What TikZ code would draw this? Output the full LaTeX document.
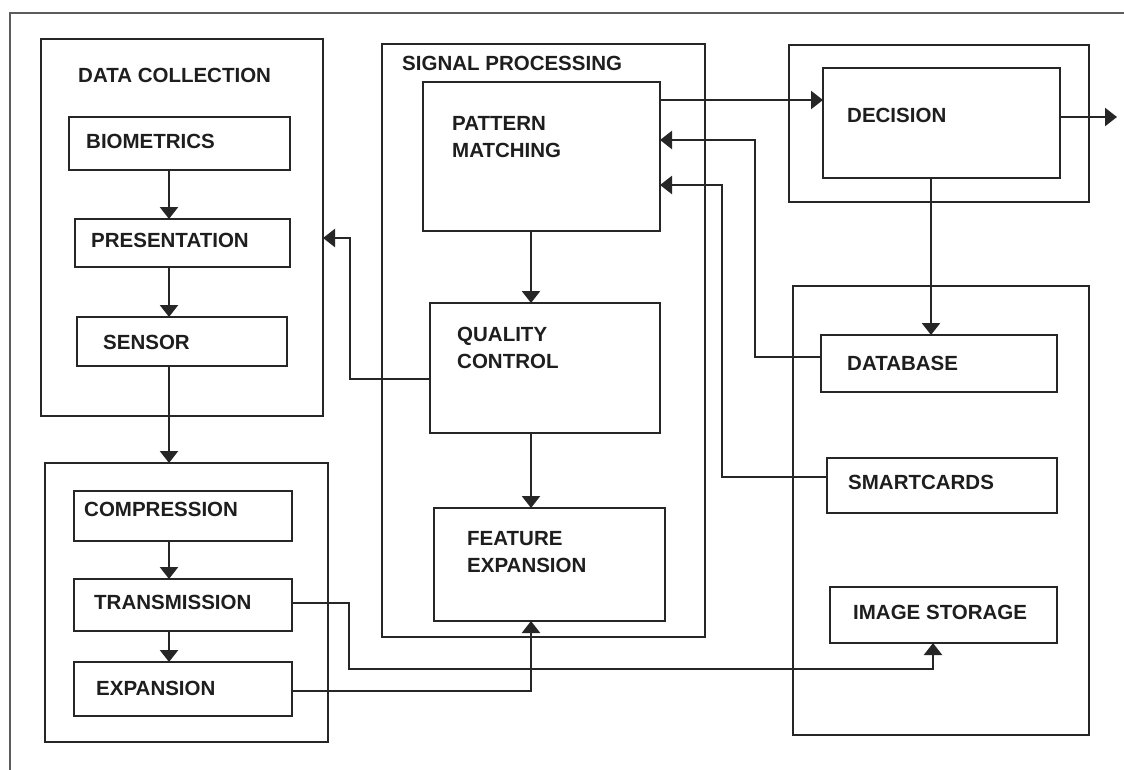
\documentclass[tikz,border=0pt]{standalone}
\usepackage{fontspec}
\setmainfont{Liberation Sans}
\usetikzlibrary{arrows.meta}
\definecolor{lc}{HTML}{262626}
\definecolor{tc}{HTML}{1E1E1E}
\newcommand\mkbox[5]{\node[box,minimum width={(#4-#2)*1pt},minimum height={(#5-#3)*1pt}] (#1) at (#2,#3) {};}
\begin{document}
\begin{tikzpicture}[x=1pt,y=-1pt,
  box/.style={draw=lc, line width=2.6pt, rectangle, inner sep=0pt, outer sep=0pt, anchor=north west},
  txt/.style={font=\fontsize{20.5}{27}\selectfont\bfseries, text=tc, inner sep=0pt, anchor=west, align=left},
  conn/.style={draw=lc, line width=2.3pt},
  arr/.style={conn, -{Triangle[width=18pt,length=12pt]}}]
\useasboundingbox (0,0) rectangle (1124,769);
\clip (0,0) rectangle (1124,769);
\fill[white] (0,0) rectangle (1124,769);
% outer frame
\draw[draw=lc!75, line width=2.4pt] (10,790) -- (10,13) -- (1140,13);
% boxes
\mkbox{dc}{41}{39}{323}{416}
\mkbox{bio}{69}{117}{290}{170}
\mkbox{pres}{75}{219}{290}{267}
\mkbox{sens}{77}{317}{287}{366}
\mkbox{tx}{45}{463}{328}{742}
\mkbox{comp}{74}{491}{292}{541}
\mkbox{trans}{74}{579}{292}{631}
\mkbox{expn}{74}{662}{292}{716}
\mkbox{sp}{382}{44}{705}{637}
\mkbox{pm}{423}{82}{660}{231}
\mkbox{qc}{430}{303}{660}{433}
\mkbox{fe}{434}{508}{665}{621}
\mkbox{dp}{789}{45}{1089}{202}
\mkbox{dec}{823}{68}{1060}{178}
\mkbox{st}{793}{286}{1089}{735}
\mkbox{db}{821}{335}{1057}{392}
\mkbox{sc}{827}{458}{1057}{513}
\mkbox{img}{830}{587}{1057}{643}
% texts
\node[txt] (tdc) at (78,75) {DATA COLLECTION};
\node[txt] (tbio) at (86,141) {BIOMETRICS};
\node[txt] (tpres) at (91,240) {PRESENTATION};
\node[txt] (tsens) at (103,342) {SENSOR};
\node[txt] (tcomp) at (84,509) {COMPRESSION};
\node[txt] (ttrans) at (94,602) {TRANSMISSION};
\node[txt] (texpn) at (96,688) {EXPANSION};
\node[txt] (tsp) at (402,63) {SIGNAL PROCESSING};
\node[txt] (tpm) at (452,137) {PATTERN\\MATCHING};
\node[txt] (tqc) at (457,348) {QUALITY\\CONTROL};
\node[txt] (tfe) at (467,552) {FEATURE\\EXPANSION};
\node[txt] (tdec) at (847,115) {DECISION};
\node[txt] (tdb) at (847,363) {DATABASE};
\node[txt] (tsc) at (848,482) {SMARTCARDS};
\node[txt] (timg) at (853,612) {IMAGE STORAGE};
% helper coordinates
\coordinate (x169) at (169,0);
\coordinate (x531) at (531,0);
\coordinate (x931) at (931,0);
\coordinate (t1) at (349,603);
\coordinate (t2) at (349,669);
\coordinate (t3) at (933,669);
\coordinate (e1) at (531,691);
\coordinate (q1) at (350,379);
\coordinate (q2) at (350,238);
\coordinate (p1) at (0,100);
\coordinate (out) at (1117,117);
\coordinate (d1) at (755,357);
\coordinate (d2) at (755,140);
\coordinate (s1) at (722,477);
\coordinate (s2) at (722,185);
% connectors
\draw[arr] (bio.south -| x169) -- (pres.north -| x169);
\draw[arr] (pres.south -| x169) -- (sens.north -| x169);
\draw[arr] (sens.south -| x169) -- (tx.north -| x169);
\draw[arr] (comp.south -| x169) -- (trans.north -| x169);
\draw[arr] (trans.south -| x169) -- (expn.north -| x169);
\draw[arr] (trans.east |- t1) -- (t1) -- (t2) -- (t3) -- (t3 |- img.south);
\draw[arr] (expn.east |- e1) -- (e1) -- (e1 |- fe.south);
\draw[arr] (pm.south -| x531) -- (qc.north -| x531);
\draw[arr] (qc.south -| x531) -- (fe.north -| x531);
\draw[arr] (qc.west |- q1) -- (q1) -- (q2) -- (q2 -| dc.east);
\draw[arr] (pm.east |- p1) -- (dec.west |- p1);
\draw[arr] (dec.east |- out) -- (out);
\draw[arr] (dec.south -| x931) -- (db.north -| x931);
\draw[arr] (db.west |- d1) -- (d1) -- (d2) -- (d2 -| pm.east);
\draw[arr] (sc.west |- s1) -- (s1) -- (s2) -- (s2 -| pm.east);
\end{tikzpicture}
\end{document}
